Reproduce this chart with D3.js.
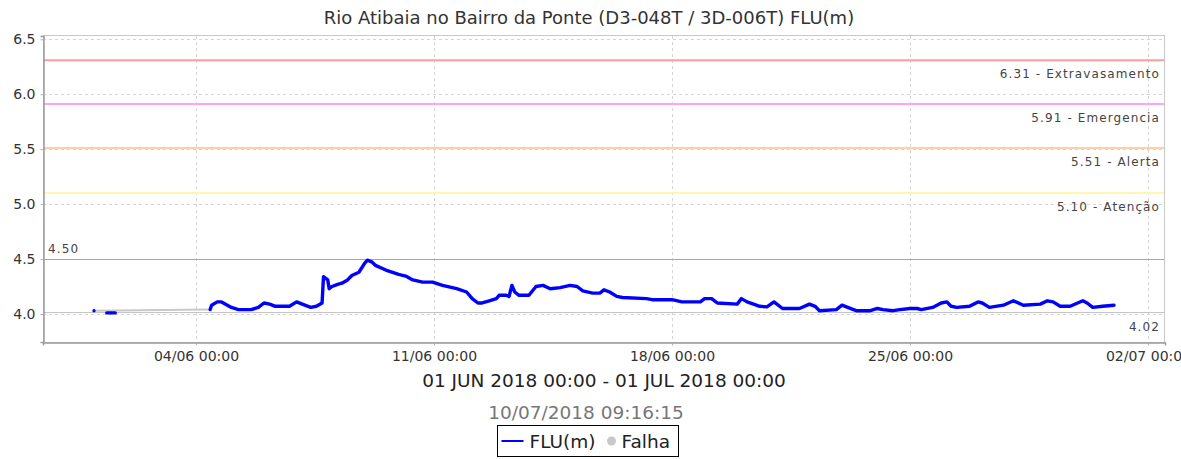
<!DOCTYPE html>
<html>
<head>
<meta charset="utf-8">
<script src="https://cdn.jsdelivr.net/npm/d3@7"></script>
<style>
  body { margin: 0; background: #fff; }
  svg { display: block; font-family: 'DejaVu Sans', sans-serif; }
</style>
</head>
<body>
<svg id="chart" width="1181" height="459"></svg>
<script>
  'use strict';

  // Series FLU(m), null = no reading (gap).
  var flowTimes = [
    '2018-06-01 00:00', '2018-06-01 04:00', '2018-06-01 09:00', '2018-06-01 12:00', '2018-06-01 15:00', '2018-06-02 12:00',
    '2018-06-04 10:00', '2018-06-04 11:00', '2018-06-04 15:00', '2018-06-04 18:00', '2018-06-05 01:00', '2018-06-05 06:00',
    '2018-06-05 15:00', '2018-06-05 20:00', '2018-06-06 00:00', '2018-06-06 04:00', '2018-06-06 08:00', '2018-06-06 18:00',
    '2018-06-06 23:00', '2018-06-07 03:00', '2018-06-07 09:00', '2018-06-07 13:00', '2018-06-07 17:00', '2018-06-07 18:00',
    '2018-06-07 21:00', '2018-06-07 22:00', '2018-06-08 00:00', '2018-06-08 04:00', '2018-06-08 07:00', '2018-06-08 11:00',
    '2018-06-08 14:00', '2018-06-08 19:00', '2018-06-08 23:00', '2018-06-09 01:00', '2018-06-09 04:00', '2018-06-09 07:00',
    '2018-06-09 14:00', '2018-06-09 23:00', '2018-06-10 04:00', '2018-06-10 09:00', '2018-06-10 16:00', '2018-06-10 23:00',
    '2018-06-11 06:00', '2018-06-11 16:00', '2018-06-11 23:00', '2018-06-12 03:00', '2018-06-12 07:00', '2018-06-12 10:00',
    '2018-06-12 15:00', '2018-06-12 20:00', '2018-06-12 22:00', '2018-06-13 03:00', '2018-06-13 05:00', '2018-06-13 07:00',
    '2018-06-13 09:00', '2018-06-13 12:00', '2018-06-13 19:00', '2018-06-14 00:00', '2018-06-14 05:00', '2018-06-14 10:00',
    '2018-06-14 17:00', '2018-06-15 00:00', '2018-06-15 05:00', '2018-06-15 09:00', '2018-06-15 16:00', '2018-06-15 21:00',
    '2018-06-16 00:00', '2018-06-16 04:00', '2018-06-16 09:00', '2018-06-16 13:00', '2018-06-17 06:00', '2018-06-17 10:00',
    '2018-06-18 00:00', '2018-06-18 07:00', '2018-06-18 20:00', '2018-06-18 23:00', '2018-06-19 04:00', '2018-06-19 08:00',
    '2018-06-19 22:00', '2018-06-20 01:00', '2018-06-20 05:00', '2018-06-20 14:00', '2018-06-20 19:00', '2018-06-21 00:00',
    '2018-06-21 06:00', '2018-06-21 18:00', '2018-06-22 01:00', '2018-06-22 05:00', '2018-06-22 08:00', '2018-06-22 20:00',
    '2018-06-23 00:00', '2018-06-23 04:00', '2018-06-23 10:00', '2018-06-23 20:00', '2018-06-24 01:00', '2018-06-24 05:00',
    '2018-06-24 12:00', '2018-06-24 17:00', '2018-06-25 00:00', '2018-06-25 05:00', '2018-06-25 08:00', '2018-06-25 16:00',
    '2018-06-25 22:00', '2018-06-26 02:00', '2018-06-26 05:00', '2018-06-26 09:00', '2018-06-26 18:00', '2018-06-27 00:00',
    '2018-06-27 03:00', '2018-06-27 08:00', '2018-06-27 18:00', '2018-06-28 01:00', '2018-06-28 08:00', '2018-06-28 20:00',
    '2018-06-29 01:00', '2018-06-29 05:00', '2018-06-29 10:00', '2018-06-29 17:00', '2018-06-30 02:00', '2018-06-30 05:00',
    '2018-06-30 09:00', '2018-06-30 16:00', '2018-07-01 00:00'
  ];
  var flowValues = [
    4.03, null, 4.01, 4.01, 4.01, null,
    4.04, 4.08, 4.11, 4.11, 4.06, 4.04,
    4.04, 4.06, 4.10, 4.09, 4.07, 4.07,
    4.11, 4.09, 4.06, 4.07, 4.10, 4.34,
    4.31, 4.23, 4.25, 4.27, 4.28, 4.31,
    4.35, 4.38, 4.46, 4.49, 4.475, 4.44,
    4.40, 4.36, 4.345, 4.31, 4.29, 4.29,
    4.26, 4.23, 4.20, 4.14, 4.10, 4.10,
    4.12, 4.14, 4.17, 4.17, 4.16, 4.26,
    4.20, 4.17, 4.17, 4.25, 4.26, 4.23,
    4.24, 4.26, 4.25, 4.21, 4.19, 4.19,
    4.22, 4.20, 4.16, 4.15, 4.14, 4.13,
    4.13, 4.11, 4.11, 4.14, 4.14, 4.10,
    4.09, 4.14, 4.11, 4.07, 4.065, 4.11,
    4.05, 4.05, 4.09, 4.07, 4.03, 4.04,
    4.08, 4.06, 4.03, 4.03, 4.05, 4.04,
    4.03, 4.04, 4.05, 4.05, 4.04, 4.06,
    4.10, 4.11, 4.07, 4.06, 4.07, 4.11,
    4.10, 4.06, 4.08, 4.12, 4.08, 4.09,
    4.12, 4.11, 4.07, 4.07, 4.12, 4.10,
    4.06, 4.07, 4.08
  ];

  // Falha: gray connector across the missing readings.
  var falhaTimes  = [ '2018-06-01 00:00', '2018-06-04 10:00' ];
  var falhaValues = [ 4.03, 4.04 ];

  // Reference levels.
  var levelValues = [ 6.31, 5.91, 5.51, 5.10 ];
  var levelNames  = [ 'Extravasamento', 'Emergencia', 'Alerta', 'Atenção' ];
  var levelColors = [ '#ff9d9d', '#ffa3ff', '#ffd0a8', '#fdf7b0' ];

  var maxValue = 4.50,
      minValue = 4.02;

  var xDomain    = [ '2018-05-30 12:00', '2018-07-02 12:00' ];
  var xTickDates = [ '2018-06-04 00:00', '2018-06-11 00:00', '2018-06-18 00:00', '2018-06-25 00:00', '2018-07-02 00:00' ];
  var yDomain    = [ 3.745, 6.53 ];
  var yTicks     = [ 4.0, 4.5, 5.0, 5.5, 6.0, 6.5 ];

  var title     = 'Rio Atibaia no Bairro da Ponte (D3-048T / 3D-006T) FLU(m)',
      xLabel    = '01 JUN 2018 00:00 - 01 JUL 2018 00:00',
      stamp     = '10/07/2018 09:16:15',
      seriesKey = 'FLU(m)',
      falhaKey  = 'Falha';

  var W = 1181, H = 459;
  var margin = { top: 36, right: 16, bottom: 117, left: 43 };
  var w = W - margin.left - margin.right,
      h = H - margin.top - margin.bottom;

  var parse = d3.timeParse( '%Y-%m-%d %H:%M' );

  var svg = d3.select( '#chart' );
  var g = svg.append( 'g' )
    .attr( 'transform', 'translate(' + margin.left + ',' + margin.top + ')' );

  var x = d3.scaleTime()
    .domain( xDomain.map( parse ) )
    .range( [ 0, w ] );

  var y = d3.scaleLinear()
    .domain( yDomain )
    .range( [ h, 0 ] );

  var flow = flowTimes.map( function( t, i ) {
    return { t: parse( t ), v: flowValues[ i ] };
  });
  var falha = falhaTimes.map( function( t, i ) {
    return { t: parse( t ), v: falhaValues[ i ] };
  });

  // Grid lines.
  g.append( 'g' )
    .selectAll( 'line' )
    .data( xTickDates.map( parse ) )
    .join( 'line' )
      .attr( 'x1', function( d ) { return Math.round( x( d ) ) + 0.5; } )
      .attr( 'x2', function( d ) { return Math.round( x( d ) ) + 0.5; } )
      .attr( 'y1', 0 )
      .attr( 'y2', h )
      .style( 'stroke', '#d4d4d4' )
      .style( 'stroke-dasharray', '3,3' );

  g.append( 'g' )
    .selectAll( 'line' )
    .data( yTicks )
    .join( 'line' )
      .attr( 'x1', 0 )
      .attr( 'x2', w )
      .attr( 'y1', function( d ) { return Math.round( y( d ) ) + 0.5; } )
      .attr( 'y2', function( d ) { return Math.round( y( d ) ) + 0.5; } )
      .style( 'stroke', '#d4d4d4' )
      .style( 'stroke-dasharray', '3,3' );

  // Reference level lines and labels.
  var levels = g.append( 'g' )
    .selectAll( 'g' )
    .data( levelValues )
    .join( 'g' );

  levels.append( 'line' )
    .attr( 'x1', 0 )
    .attr( 'x2', w )
    .attr( 'y1', function( d ) { return y( d ); } )
    .attr( 'y2', function( d ) { return y( d ); } )
    .style( 'stroke', function( d, i ) { return levelColors[ i ]; } )
    .style( 'stroke-width', 2 );

  levels.append( 'text' )
    .attr( 'x', w - 5 )
    .attr( 'y', function( d ) { return y( d ) + 17.5; } )
    .attr( 'text-anchor', 'end' )
    .style( 'font-size', '12px' )
    .style( 'letter-spacing', '1.1px' )
    .style( 'fill', '#444' )
    .text( function( d, i ) { return d.toFixed( 2 ) + ' - ' + levelNames[ i ]; } );

  // Max / min markers.
  g.append( 'line' )
    .attr( 'x1', 0 ).attr( 'x2', w )
    .attr( 'y1', Math.round( y( maxValue ) ) + 0.5 )
    .attr( 'y2', Math.round( y( maxValue ) ) + 0.5 )
    .style( 'stroke', '#a8a8a8' );

  g.append( 'text' )
    .attr( 'x', 5 )
    .attr( 'y', y( maxValue ) - 6.5 )
    .style( 'font-size', '12px' )
    .style( 'letter-spacing', '1.1px' )
    .style( 'fill', '#444' )
    .text( maxValue.toFixed( 2 ) );

  g.append( 'line' )
    .attr( 'x1', 0 ).attr( 'x2', w )
    .attr( 'y1', Math.round( y( minValue ) ) + 0.5 )
    .attr( 'y2', Math.round( y( minValue ) ) + 0.5 )
    .style( 'stroke', '#c4c4c4' );

  g.append( 'text' )
    .attr( 'x', w - 5 )
    .attr( 'y', y( minValue ) + 19 )
    .attr( 'text-anchor', 'end' )
    .style( 'font-size', '12px' )
    .style( 'letter-spacing', '1.1px' )
    .style( 'fill', '#444' )
    .text( minValue.toFixed( 2 ) );

  // Series.
  var line = d3.line()
    .defined( function( d ) { return d.v != null; } )
    .x( function( d ) { return x( d.t ); } )
    .y( function( d ) { return y( d.v ); } );

  g.append( 'path' )
    .datum( falha )
    .attr( 'd', line )
    .style( 'fill', 'none' )
    .style( 'stroke', '#c8c8c8' )
    .style( 'stroke-width', 2 );

  g.append( 'path' )
    .datum( flow )
    .attr( 'd', line )
    .style( 'fill', 'none' )
    .style( 'stroke', '#0000ff' )
    .style( 'stroke-width', 3.4 )
    .style( 'stroke-linejoin', 'round' )
    .style( 'stroke-linecap', 'round' );

  // Plot outline.
  g.append( 'rect' )
    .attr( 'x', 0.5 ).attr( 'y', -0.5 )
    .attr( 'width', w - 1 ).attr( 'height', h + 1 )
    .style( 'fill', 'none' )
    .style( 'stroke', '#c8c8c8' );

  // Axes.
  var xAxis = g.append( 'g' )
    .attr( 'transform', 'translate(0,' + ( h + 0.5 ) + ')' )
    .call( d3.axisBottom( x )
      .tickValues( xTickDates.map( parse ) )
      .tickFormat( d3.timeFormat( '%d/%m %H:%M' ) )
      .tickSize( 3 )
      .tickPadding( 6 ) );

  var yAxis = g.append( 'g' )
    .attr( 'transform', 'translate(0.5,0)' )
    .call( d3.axisLeft( y )
      .tickValues( yTicks )
      .tickFormat( d3.format( '.1f' ) )
      .tickSize( 3 )
      .tickPadding( 5 ) );

  [ xAxis, yAxis ].forEach( function( a ) {
    a.select( '.domain' ).style( 'stroke', '#9a9a9a' ).style( 'stroke-width', 1.5 );
    a.selectAll( '.tick line' ).style( 'stroke', '#b0b0b0' );
    a.selectAll( '.tick text' )
      .style( 'font-family', 'DejaVu Sans, sans-serif' )
      .style( 'font-size', '14px' )
      .style( 'fill', '#333' );
  });

  // Titles.
  svg.append( 'text' )
    .attr( 'x', 589 )
    .attr( 'y', 23.5 )
    .attr( 'text-anchor', 'middle' )
    .style( 'font-size', '18px' )
    .style( 'fill', '#333' )
    .text( title );

  svg.append( 'text' )
    .attr( 'x', margin.left + w / 2 )
    .attr( 'y', 387 )
    .attr( 'text-anchor', 'middle' )
    .style( 'font-size', '18.5px' )
    .style( 'fill', '#222' )
    .text( xLabel );

  svg.append( 'text' )
    .attr( 'x', 586 )
    .attr( 'y', 419 )
    .attr( 'text-anchor', 'middle' )
    .style( 'font-size', '18.5px' )
    .style( 'fill', '#777' )
    .text( stamp );

  // Legend.
  var legend = svg.append( 'g' )
    .attr( 'transform', 'translate(497.5,425.5)' );

  legend.append( 'rect' )
    .attr( 'width', 181 )
    .attr( 'height', 31 )
    .style( 'fill', '#fff' )
    .style( 'stroke', '#000' );

  legend.append( 'line' )
    .attr( 'x1', 4 ).attr( 'x2', 26 )
    .attr( 'y1', 15.5 ).attr( 'y2', 15.5 )
    .style( 'stroke', '#0000ff' )
    .style( 'stroke-width', 2 );

  legend.append( 'text' )
    .attr( 'x', 32 )
    .attr( 'y', 22 )
    .style( 'font-size', '18.5px' )
    .style( 'fill', '#222' )
    .text( seriesKey );

  legend.append( 'circle' )
    .attr( 'cx', 114 )
    .attr( 'cy', 15.5 )
    .attr( 'r', 4.5 )
    .style( 'fill', '#c8c8c8' );

  legend.append( 'text' )
    .attr( 'x', 124 )
    .attr( 'y', 22 )
    .style( 'font-size', '18.5px' )
    .style( 'fill', '#222' )
    .text( falhaKey );
</script>
</body>
</html>
